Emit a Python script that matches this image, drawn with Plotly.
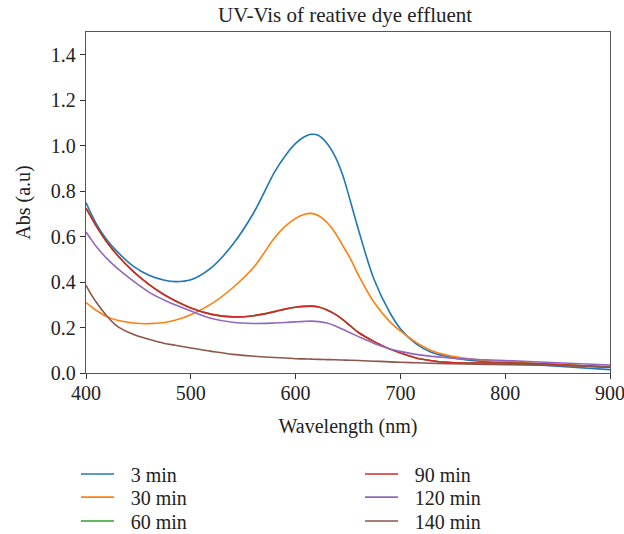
import plotly.graph_objects as go

# Wavelength grid (nm) shared by all spectra
wavelength = [400, 405, 410, 420, 430, 445, 460, 475, 485, 500, 520, 540, 560, 580, 590,
              600, 608, 615, 622, 630, 638, 645, 652, 660, 675, 690, 700, 715, 730, 745,
              760, 780, 800, 850, 900]

# Absorbance (a.u.) for each irradiation time
abs_3min = [0.750, 0.700, 0.655, 0.585, 0.533, 0.470, 0.430, 0.408, 0.402, 0.410, 0.465, 0.565,
            0.705, 0.885, 0.955, 1.010, 1.038, 1.050, 1.045, 1.010, 0.950, 0.870, 0.760, 0.630,
            0.410, 0.265, 0.195, 0.128, 0.090, 0.072, 0.060, 0.051, 0.045, 0.030, 0.015]
abs_30min = [0.310, 0.292, 0.275, 0.248, 0.232, 0.220, 0.217, 0.222, 0.232, 0.256, 0.305, 0.375,
             0.465, 0.595, 0.645, 0.680, 0.697, 0.702, 0.692, 0.662, 0.615, 0.560, 0.505, 0.430,
             0.310, 0.225, 0.185, 0.135, 0.098, 0.078, 0.066, 0.056, 0.050, 0.037, 0.025]
abs_60min = [0.725, 0.685, 0.645, 0.575, 0.518, 0.447, 0.390, 0.343, 0.318, 0.286, 0.258, 0.247,
             0.252, 0.270, 0.281, 0.289, 0.293, 0.294, 0.290, 0.277, 0.258, 0.235, 0.208, 0.178,
             0.138, 0.105, 0.088, 0.066, 0.054, 0.047, 0.044, 0.044, 0.044, 0.037, 0.025]
abs_90min = [0.725, 0.685, 0.645, 0.575, 0.518, 0.447, 0.390, 0.343, 0.318, 0.286, 0.258, 0.247,
             0.252, 0.270, 0.281, 0.289, 0.293, 0.294, 0.290, 0.277, 0.258, 0.235, 0.208, 0.178,
             0.138, 0.105, 0.088, 0.066, 0.054, 0.047, 0.044, 0.044, 0.044, 0.037, 0.025]
abs_120min = [0.620, 0.587, 0.555, 0.503, 0.460, 0.405, 0.356, 0.320, 0.300, 0.273, 0.240, 0.223,
              0.218, 0.220, 0.222, 0.225, 0.227, 0.228, 0.226, 0.220, 0.207, 0.192, 0.177, 0.160,
              0.130, 0.106, 0.095, 0.082, 0.073, 0.067, 0.062, 0.058, 0.055, 0.045, 0.035]
abs_140min = [0.385, 0.345, 0.310, 0.250, 0.205, 0.170, 0.148, 0.130, 0.122, 0.110, 0.095, 0.082,
              0.074, 0.068, 0.066, 0.063, 0.062, 0.061, 0.060, 0.059, 0.058, 0.057, 0.056, 0.055,
              0.052, 0.049, 0.047, 0.045, 0.043, 0.041, 0.040, 0.038, 0.037, 0.033, 0.028]

labels = ["3 min", "30 min", "60 min", "90 min", "120 min", "140 min"]
series = [abs_3min, abs_30min, abs_60min, abs_90min, abs_120min, abs_140min]
colors = ["#1f77b4", "#ff7f0e", "#2ca02c", "#d62728", "#9467bd", "#8c564b"]

FONT = "Liberation Serif"
TXT = "#222222"

# Two-column key: (column x in paper units, row y in paper units)
key_cols = [-0.0191, -0.0191, -0.0191, 0.5229, 0.5229, 0.5229]
key_rows = [-0.296, -0.364, -0.434, -0.296, -0.364, -0.434]

fig = go.Figure()
for i, (name, ys, col) in enumerate(zip(labels, series, colors)):
    lg = "legend" if i == 0 else f"legend{i + 1}"
    fig.add_trace(go.Scatter(
        x=wavelength, y=ys, mode="lines", name="\u2002\u200a" + name,
        line=dict(color=col, width=1.6, shape="spline", smoothing=1.0),
        legend=lg, showlegend=True,
    ))

axis_common = dict(
    showline=True, mirror=True, linecolor="#555555", linewidth=1.3,
    ticks="outside", ticklen=5, tickcolor="#333333", tickwidth=1.2,
    showgrid=False, zeroline=False, ticklabeloverflow="allow",
    tickfont=dict(family=FONT, size=20, color=TXT),
)

legends = {}
for i, (kx, ky) in enumerate(zip(key_cols, key_rows)):
    key = "legend" if i == 0 else f"legend{i + 1}"
    legends[key] = dict(
        x=kx, y=ky, xanchor="left", yanchor="middle", orientation="v",
        bgcolor="rgba(0,0,0,0)", font=dict(family=FONT, size=20, color=TXT),
        itemwidth=33,
    )

fig.update_layout(
    width=624, height=534,
    showlegend=True,
    margin=dict(l=86, r=14, t=32, b=161, autoexpand=False),
    paper_bgcolor="white", plot_bgcolor="white",
    font=dict(family=FONT, size=20, color=TXT),
    title=dict(text="UV-Vis of reative dye effluent", x=0.553, xanchor="center",
               y=0.972, yanchor="middle", font=dict(family=FONT, size=21, color=TXT)),
    xaxis=dict(range=[400, 900], tickvals=[400, 500, 600, 700, 800, 900],
               ticklabelstandoff=-3,
               title=dict(text="Wavelength (nm)", standoff=15,
                          font=dict(family=FONT, size=20, color=TXT)),
               **axis_common),
    yaxis=dict(range=[0, 1.5], tickvals=[0, 0.2, 0.4, 0.6, 0.8, 1.0, 1.2, 1.4],
               tickformat=".1f",
               title=dict(text="Abs (a.u)", standoff=14,
                          font=dict(family=FONT, size=20, color=TXT)),
               **axis_common),
    **legends,
)

fig.write_html("out.html")
